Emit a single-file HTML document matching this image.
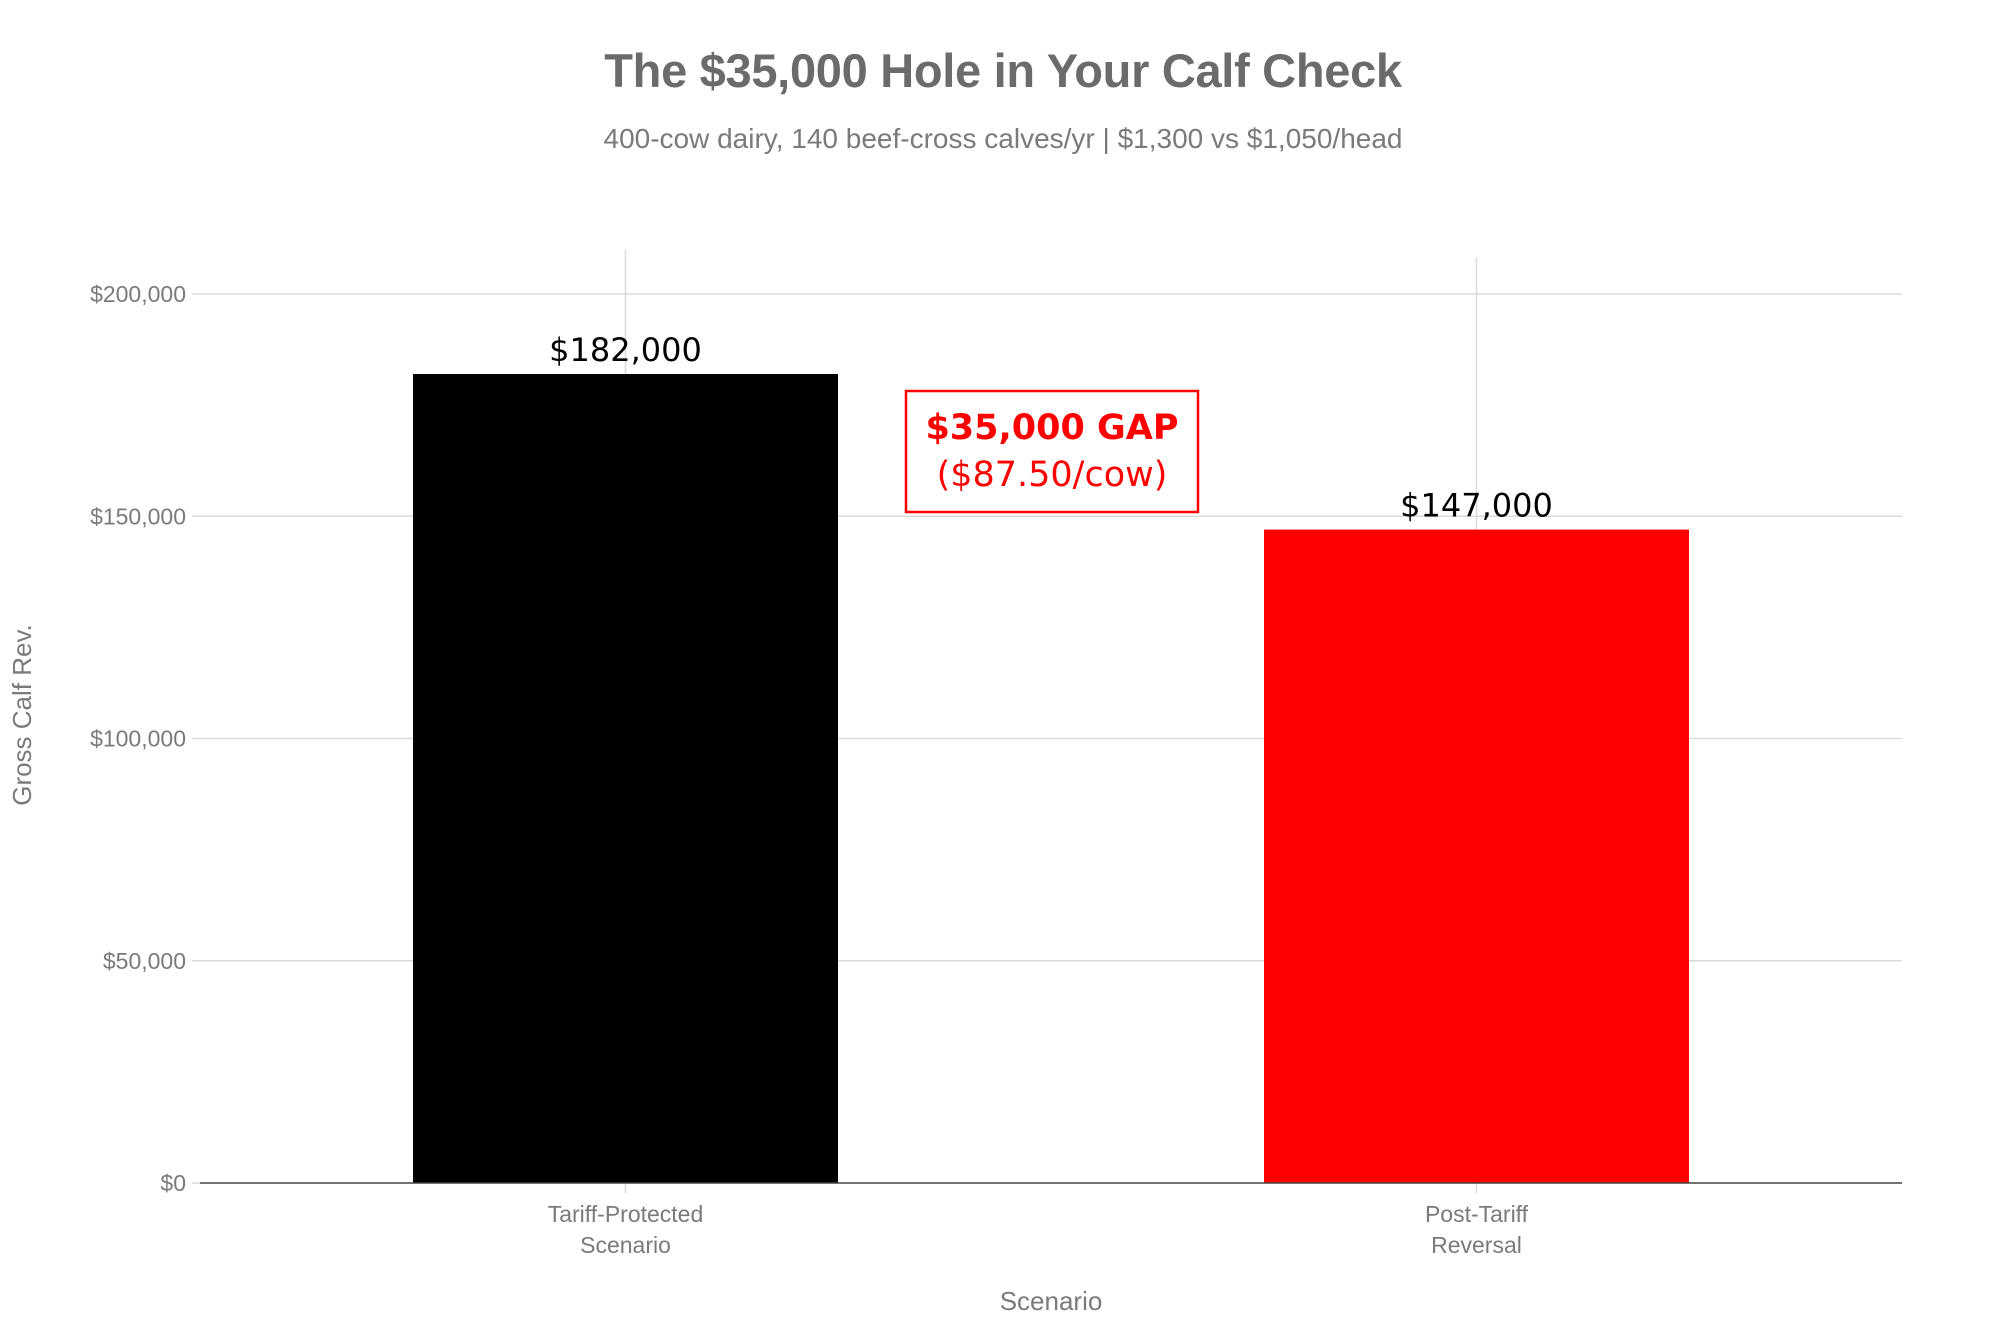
<!DOCTYPE html>
<html><head><meta charset="utf-8"><style>
body{margin:0;background:#fff}
svg{display:block}
</style></head><body>
<svg width="2000" height="1333" xmlns="http://www.w3.org/2000/svg">
<text x="1003" y="87" text-anchor="middle" font-family="Liberation Sans, sans-serif" font-size="47" font-weight="bold" fill="#6b6b6b" letter-spacing="-0.3">The $35,000 Hole in Your Calf Check</text>
<text x="1003" y="148" text-anchor="middle" font-family="Liberation Sans, sans-serif" font-size="28" fill="#7a7a7a">400-cow dairy, 140 beef-cross calves/yr | $1,300 vs $1,050/head</text>
<g id="plot"></g>
<text transform="translate(31,715) rotate(-90)" text-anchor="middle" font-family="Liberation Sans, sans-serif" font-size="26" fill="#7a7a7a">Gross Calf Rev.</text>
<text x="1051" y="1310" text-anchor="middle" font-family="Liberation Sans, sans-serif" font-size="26" fill="#7a7a7a">Scenario</text>
<rect x="906" y="391" width="292" height="121" fill="#fff" stroke="#ff0000" stroke-width="2.5"/>
<text x="1052" y="439" text-anchor="middle" font-family="DejaVu Sans, sans-serif" font-size="35" font-weight="bold" fill="#ff0000">$35,000 GAP</text>
<text x="1052" y="486" text-anchor="middle" font-family="DejaVu Sans, sans-serif" font-size="35" fill="#ff0000">($87.50/cow)</text>
</svg>
<script>
const categories = [["Tariff-Protected","Scenario"],["Post-Tariff","Reversal"]];
const values = [182000, 147000];
const valueLabels = ["$182,000", "$147,000"];
const colors = ["#000000", "#ff0000"];
const yTicks = [0, 50000, 100000, 150000, 200000];
const yTickLabels = ["$0", "$50,000", "$100,000", "$150,000", "$200,000"];

const NS = "http://www.w3.org/2000/svg";
const g = document.getElementById("plot");
const L = 200, R = 1902, Y0 = 1183, Ytop = 294;
const y = v => Y0 - (v / 200000) * (Y0 - Ytop);
const band = (R - L) / categories.length;
const xc = i => L + band * (i + 0.5);
const bw = 425;
function mk(tag, attrs){const e=document.createElementNS(NS,tag);for(const k in attrs)e.setAttribute(k,attrs[k]);g.appendChild(e);return e;}

yTicks.forEach((t,i)=>{
  if(t>0){
    const l=mk("line",{x1:L,x2:R,y1:y(t),y2:y(t),stroke:"#d9d9d9","stroke-width":1.5});
    
    
  }
  const tk=mk("line",{x1:L-8,x2:L,y1:y(t),y2:y(t),stroke:"#d9d9d9","stroke-width":1.5});
  
  
  const tx=mk("text",{x:L-14,y:y(t)+8,"text-anchor":"end","font-family":"Liberation Sans, sans-serif","font-size":23,fill:"#7a7a7a"});
  tx.textContent=yTickLabels[i];
  
  
});
categories.forEach((c,i)=>{
  const gl=mk("line",{x1:xc(i),x2:xc(i),y1:i==0?250:258,y2:Y0+10,stroke:"#d9d9d9","stroke-width":1.5});
  
  
});
categories.forEach((c,i)=>{
  const b=mk("rect",{x:xc(i)-bw/2,y:y(values[i]),width:bw,height:Y0-y(values[i]),fill:colors[i]});
  
  
  const vl=mk("text",{x:xc(i),y:y(values[i])-13,"text-anchor":"middle","font-family":"DejaVu Sans, sans-serif","font-size":32,fill:"#000"});
  vl.textContent=valueLabels[i];
  
  
  c.forEach((line,j)=>{
    const t=mk("text",{x:xc(i),y:1222+j*31,"text-anchor":"middle","font-family":"Liberation Sans, sans-serif","font-size":23,fill:"#7a7a7a"});
    t.textContent=line;
    
    
  });
});
const ax=mk("line",{x1:L,x2:R,y1:Y0,y2:Y0,stroke:"#444","stroke-width":1.5});


</script>
</body></html>
